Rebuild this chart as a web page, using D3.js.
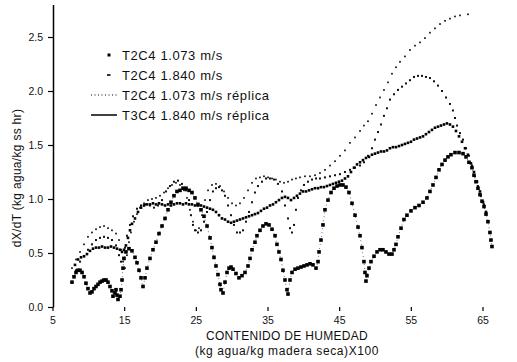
<!DOCTYPE html>
<html>
<head>
<meta charset="utf-8">
<script src="https://cdn.jsdelivr.net/npm/d3@7"></script>
<style>
  body { margin: 0; background: #fff; }
  svg { display: block; }
  text { font-family: "Liberation Sans", Arial, sans-serif; fill: #111; }
</style>
</head>
<body>
<svg id="chart" width="517" height="362"></svg>
<script>
// Drying-rate curves: [moisture content (kg agua/kg madera seca x100), dX/dT]
const seriesLabels = [
  "T2C4 1.073 m/s",
  "T2C4 1.840 m/s",
  "T2C4 1.073 m/s réplica",
  "T3C4 1.840 m/s réplica"
];

const serieT2C4_1073 = [
  [7.72,0.23],[8.00,0.28],[8.28,0.32],[8.56,0.34],[8.84,0.34],[9.12,0.32],[9.40,0.28],[9.67,0.22],
  [9.95,0.17],[10.23,0.13],[10.51,0.14],[10.79,0.17],[11.07,0.19],[11.35,0.21],[11.63,0.23],[11.91,0.24],
  [12.19,0.25],[12.47,0.25],[12.74,0.23],[13.02,0.19],[13.30,0.15],[13.44,0.10],[13.72,0.13],[13.86,0.16],
  [14.00,0.11],[14.14,0.07],[14.42,0.10],[14.56,0.16],[14.70,0.25],[14.84,0.36],[14.98,0.45],[15.25,0.51],
  [15.67,0.54],[16.09,0.52],[16.51,0.46],[16.79,0.41],[17.07,0.34],[17.35,0.27],[17.63,0.19],[17.91,0.27],
  [18.18,0.36],[18.60,0.45],[19.02,0.53],[19.44,0.60],[19.86,0.68],[20.28,0.75],[20.70,0.82],[21.12,0.90],
  [21.53,0.97],[21.95,1.03],[22.37,1.07],[22.79,1.08],[23.21,1.10],[23.63,1.10],[24.05,1.08],[24.46,1.06],
  [24.88,1.01],[25.30,0.95],[25.72,0.90],[26.14,0.84],[26.56,0.75],[26.98,0.64],[27.25,0.55],[27.53,0.46],
  [27.81,0.38],[28.09,0.30],[28.37,0.21],[28.51,0.16],[28.79,0.13],[29.07,0.23],[29.35,0.32],[29.63,0.36],
  [29.91,0.37],[30.19,0.35],[30.60,0.31],[31.02,0.27],[31.44,0.29],[31.86,0.32],[32.28,0.38],[32.56,0.45],
  [32.84,0.53],[33.25,0.60],[33.53,0.66],[33.95,0.71],[34.37,0.75],[34.79,0.77],[35.21,0.76],[35.63,0.72],
  [36.05,0.66],[36.32,0.58],[36.60,0.51],[36.88,0.44],[37.16,0.34],[37.44,0.25],[37.72,0.16],[37.86,0.12],
  [38.14,0.25],[38.42,0.32],[38.84,0.35],[39.25,0.36],[39.67,0.37],[40.09,0.38],[40.51,0.39],[40.93,0.40],
  [41.35,0.39],[41.77,0.36],[42.05,0.42],[42.19,0.51],[42.46,0.62],[42.74,0.76],[43.02,0.90],[43.44,0.99],
  [43.86,1.06],[44.28,1.10],[44.70,1.12],[45.11,1.13],[45.53,1.13],[45.95,1.11],[46.37,1.06],[46.79,0.96],
  [47.21,0.85],[47.63,0.74],[47.91,0.66],[48.18,0.55],[48.46,0.42],[48.60,0.32],[48.74,0.24],[48.88,0.29],
  [49.16,0.36],[49.44,0.42],[49.86,0.47],[50.28,0.51],[50.70,0.53],[51.11,0.53],[51.53,0.51],[51.95,0.49],
  [52.37,0.49],[52.65,0.53],[52.93,0.58],[53.21,0.65],[53.63,0.73],[54.04,0.81],[54.46,0.85],[55.02,0.89],
  [55.58,0.92],[56.14,0.94],[56.70,0.97],[57.25,1.01],[57.67,1.07],[58.09,1.13],[58.51,1.20],[58.93,1.27],
  [59.35,1.32],[59.77,1.36],[60.18,1.39],[60.60,1.41],[61.16,1.43],[61.72,1.43],[62.28,1.42],[62.70,1.39],
  [63.11,1.34],[63.53,1.29],[63.81,1.22],[64.09,1.16],[64.37,1.10],[64.65,1.04],[64.93,0.98],[65.21,0.93],
  [65.49,0.86],[65.76,0.79],[66.04,0.69],[66.18,0.62],[66.32,0.56]
];

const serieT2C4_1840 = [
  [8.14,0.39],[8.56,0.44],[8.98,0.46],[9.40,0.47],[9.81,0.49],[10.23,0.52],[10.65,0.54],[11.07,0.55],
  [11.49,0.55],[11.91,0.56],[12.33,0.55],[12.74,0.55],[13.16,0.56],[13.58,0.55],[14.00,0.54],[14.42,0.53],
  [14.70,0.51],[14.98,0.53],[15.25,0.57],[15.53,0.64],[15.81,0.71],[16.09,0.77],[16.51,0.82],[16.93,0.88],
  [17.35,0.92],[17.77,0.94],[18.18,0.95],[18.60,0.95],[19.02,0.96],[19.44,0.95],[19.86,0.96],[20.28,0.95],
  [20.70,0.94],[21.12,0.95],[21.53,0.94],[21.95,0.95],[22.37,0.96],[22.79,0.96],[23.21,0.95],[23.63,0.96],
  [24.05,0.95],[24.46,0.95],[24.88,0.94],[25.30,0.94],[25.72,0.94],[26.14,0.93],[26.56,0.92],[26.98,0.91],
  [27.39,0.90],[27.81,0.88],[28.23,0.85],[28.65,0.82],[29.07,0.81],[29.49,0.79],[29.91,0.78],[30.32,0.79],
  [30.74,0.80],[31.16,0.81],[31.58,0.82],[32.00,0.83],[32.42,0.84],[32.84,0.85],[33.25,0.86],[33.67,0.87],
  [34.09,0.89],[34.51,0.91],[34.93,0.92],[35.35,0.94],[35.77,0.95],[36.18,0.97],[36.60,0.99],[37.02,1.01],
  [37.44,1.02],[37.86,1.01],[38.28,0.99],[38.70,1.01],[39.11,1.03],[39.53,1.05],[39.95,1.07],[40.37,1.07],
  [40.79,1.08],[41.21,1.09],[41.63,1.10],[42.05,1.10],[42.46,1.11],[42.88,1.11],[43.30,1.12],[43.72,1.13],
  [44.14,1.14],[44.56,1.15],[44.97,1.16],[45.39,1.17],[45.81,1.19],[46.23,1.21],[46.65,1.25],[47.07,1.29],
  [47.49,1.32],[47.91,1.34],[48.32,1.36],[48.74,1.38],[49.16,1.39],[49.58,1.41],[50.00,1.42],[50.42,1.43],
  [50.84,1.44],[51.25,1.44],[51.67,1.45],[52.09,1.47],[52.51,1.48],[52.93,1.48],[53.35,1.49],[53.77,1.50],
  [54.18,1.51],[54.60,1.52],[55.02,1.53],[55.44,1.55],[55.86,1.56],[56.28,1.57],[56.70,1.58],[57.11,1.60],
  [57.53,1.62],[57.95,1.64],[58.37,1.66],[58.79,1.67],[59.21,1.68],[59.63,1.69],[60.04,1.70],[60.46,1.69],
  [60.88,1.67],[61.30,1.63],[61.72,1.58],[62.14,1.53],[62.56,1.47],[62.97,1.41],[63.39,1.33],[63.81,1.25],
  [64.23,1.16],[64.65,1.07],[65.07,0.97],[65.49,0.88]
];

const serieT2C4_1073r = [
  [7.72,0.36],[8.28,0.44],[8.84,0.51],[9.40,0.58],[9.95,0.65],[10.51,0.69],[11.07,0.72],[11.63,0.74],
  [12.19,0.75],[12.74,0.73],[13.30,0.71],[13.86,0.68],[14.28,0.62],[14.56,0.53],[14.84,0.42],[15.12,0.36],
  [15.39,0.48],[15.67,0.60],[15.95,0.69],[16.37,0.79],[16.79,0.86],[17.21,0.92],[17.77,0.96],[18.32,0.99],
  [18.88,1.00],[19.44,1.01],[20.00,1.03],[20.56,1.06],[21.12,1.10],[21.67,1.13],[22.23,1.15],[22.79,1.13],
  [23.35,1.08],[23.77,1.01],[24.18,0.90],[24.60,0.79],[25.02,0.71],[25.44,0.73],[25.86,0.85],[26.28,0.99],
  [26.70,1.08],[27.25,1.13],[27.81,1.14],[28.37,1.12],[28.93,1.07],[29.49,1.01],[30.05,0.96],[30.60,0.94],
  [31.16,0.96],[31.72,1.01],[32.28,1.08],[32.84,1.15],[33.39,1.19],[33.95,1.20],[34.51,1.21],[35.07,1.20],
  [35.63,1.19],[36.18,1.18],[36.74,1.16],[37.30,1.15],[37.86,1.16],[38.42,1.18],[38.97,1.19],[39.53,1.20],
  [40.23,1.21],[40.93,1.21],[41.63,1.22],[42.32,1.24],[43.02,1.27],[43.72,1.31],[44.42,1.35],[45.11,1.40],
  [45.81,1.45],[46.51,1.52],[47.21,1.57],[47.91,1.63],[48.46,1.68],[49.02,1.72],[49.58,1.79],[50.14,1.87],
  [50.70,1.94],[51.25,2.01],[51.81,2.08],[52.37,2.16],[52.93,2.22],[53.49,2.27],[54.18,2.32],[54.88,2.38],
  [55.58,2.42],[56.28,2.45],[56.97,2.49],[57.67,2.54],[58.37,2.58],[59.07,2.62],[59.77,2.65],[60.46,2.67],
  [61.16,2.69],[61.86,2.70],[62.97,2.71]
];

const serieT3C4_1840r = [
  [8.28,0.34],[8.84,0.42],[9.40,0.47],[9.95,0.53],[10.51,0.58],[11.07,0.62],[11.63,0.64],[12.19,0.65],
  [12.74,0.64],[13.30,0.62],[13.86,0.57],[14.28,0.48],[14.56,0.42],[14.84,0.45],[15.12,0.55],[15.39,0.66],
  [15.81,0.76],[16.23,0.84],[16.79,0.91],[17.35,0.94],[17.91,0.95],[18.60,0.94],[19.16,0.92],[19.72,0.94],
  [20.28,0.99],[20.84,1.07],[21.39,1.12],[21.95,1.16],[22.51,1.17],[23.07,1.14],[23.63,1.08],[24.05,0.99],
  [24.32,0.85],[24.60,0.76],[24.88,0.71],[25.30,0.69],[25.72,0.71],[26.14,0.79],[26.56,0.88],[26.98,0.99],
  [27.39,1.07],[27.81,1.10],[28.23,1.11],[28.65,1.08],[29.07,1.03],[29.49,0.94],[29.91,0.85],[30.32,0.76],
  [30.74,0.69],[31.16,0.69],[31.58,0.71],[32.00,0.79],[32.42,0.88],[32.84,0.97],[33.25,1.06],[33.67,1.12],
  [34.23,1.16],[34.79,1.19],[35.35,1.19],[35.91,1.18],[36.46,1.14],[37.02,1.07],[37.44,0.94],[37.86,0.82],
  [38.14,0.73],[38.42,0.69],[38.70,0.76],[38.97,0.90],[39.25,1.01],[39.67,1.08],[40.09,1.13],[40.65,1.16],
  [41.21,1.18],[41.77,1.19],[42.32,1.19],[43.02,1.20],[43.72,1.21],[44.42,1.22],[45.11,1.23],[45.81,1.25],
  [46.51,1.27],[47.21,1.29],[47.91,1.31],[48.46,1.34],[49.02,1.40],[49.58,1.47],[50.00,1.55],[50.42,1.62],
  [50.84,1.69],[51.25,1.77],[51.67,1.84],[52.09,1.92],[52.65,1.97],[53.21,2.01],[53.77,2.04],[54.32,2.07],
  [54.88,2.10],[55.44,2.13],[56.00,2.14],[56.56,2.14],[57.11,2.13],[57.67,2.12],[58.23,2.09],[58.79,2.05],
  [59.35,2.00],[59.91,1.94],[60.46,1.88],[60.88,1.82],[61.16,1.75],[61.44,1.68],[61.86,1.61],[62.28,1.55],
  [62.70,1.47],[63.11,1.40],[63.53,1.31],[63.95,1.21],[64.37,1.12],[64.79,1.03],[65.21,0.95]
];

const xTicks = [5, 15, 25, 35, 45, 55, 65];
const yTicks = [0, 0.5, 1.0, 1.5, 2.0, 2.5];
const xTitle = ["CONTENIDO DE HUMEDAD", "(kg agua/kg madera seca)X100"];
const yTitle = "dX/dT (kg agua/kg ss hr)";

const svg = d3.select("#chart");

const x = d3.scaleLinear().domain([5, 65]).range([52.5, 482.5]);
const y = d3.scaleLinear().domain([0, 2.8]).range([307, 4.6]);

// Y axis with its line
const yAxis = svg.append("g")
  .attr("transform", "translate(53,0)")
  .call(d3.axisLeft(y).tickValues(yTicks).tickSize(5).tickSizeOuter(0).tickPadding(5)
    .tickFormat(d3.format(".1f")));
yAxis.select(".domain").attr("stroke", "#000").attr("stroke-width", 1.5);
yAxis.selectAll(".tick line").attr("stroke", "#000").attr("stroke-width", 1.2);
yAxis.selectAll(".tick text").style("font-size", "10.5px").attr("fill", "#222");

// X axis: tick marks only, no baseline
const xAxis = svg.append("g")
  .attr("transform", "translate(0,307)")
  .call(d3.axisBottom(x).tickValues(xTicks).tickSize(4).tickSizeOuter(0).tickPadding(6)
    .tickFormat(d3.format("d")));
xAxis.select(".domain").remove();
xAxis.selectAll(".tick line").attr("stroke", "#000").attr("stroke-width", 1.2);
xAxis.selectAll(".tick text").style("font-size", "10.5px").attr("fill", "#222");

// Axis titles
svg.append("text").attr("x", 287).attr("y", 340).attr("text-anchor", "middle")
  .style("font-size", "12px").style("letter-spacing", "0.3px").text(xTitle[0]);
svg.append("text").attr("x", 287).attr("y", 355).attr("text-anchor", "middle")
  .style("font-size", "12px").style("letter-spacing", "0.6px").text(xTitle[1]);
svg.append("text").attr("transform", "translate(21,178) rotate(-90)").attr("text-anchor", "middle")
  .style("font-size", "12px").style("letter-spacing", "0.3px").text(yTitle);

// Series marker styles
const styles = [
  { data: serieT2C4_1073, size: 3.6, fill: "#000" },
  { data: serieT2C4_1840, size: 2.6, fill: "#000" },
  { data: serieT2C4_1073r, size: 1.7, fill: "#111" },
  { data: serieT3C4_1840r, size: 2.0, fill: "#111" }
];

// faint connecting trace under the first series
svg.append("path")
  .datum(serieT2C4_1073)
  .attr("fill", "none")
  .attr("stroke", "#2b2b9c")
  .attr("stroke-width", 1)
  .attr("stroke-dasharray", "1 3")
  .attr("opacity", 0.7)
  .attr("d", d3.line().x(d => x(d[0])).y(d => y(d[1])));

styles.slice().reverse().forEach(s => {
  svg.append("g").selectAll("rect")
    .data(s.data)
    .join("rect")
    .attr("x", d => x(d[0]) - s.size / 2)
    .attr("y", d => y(d[1]) - s.size / 2)
    .attr("width", s.size)
    .attr("height", s.size)
    .attr("fill", s.fill);
});

// Legend
const legend = svg.append("g");
const rowsY = [55, 75, 95, 115];
legend.append("rect").attr("x", 107.5).attr("y", rowsY[0] - 1.5).attr("width", 3).attr("height", 3).attr("fill", "#000");
legend.append("rect").attr("x", 107).attr("y", rowsY[1] - 0.8).attr("width", 3.5).attr("height", 1.6).attr("fill", "#000");
legend.append("line").attr("x1", 91).attr("x2", 118).attr("y1", rowsY[2]).attr("y2", rowsY[2])
  .attr("stroke", "#000").attr("stroke-width", 1).attr("stroke-dasharray", "1 2.5");
legend.append("line").attr("x1", 91).attr("x2", 117).attr("y1", rowsY[3]).attr("y2", rowsY[3])
  .attr("stroke", "#000").attr("stroke-width", 1.5);
seriesLabels.forEach((lab, i) => {
  legend.append("text").attr("x", 122).attr("y", rowsY[i]).attr("dy", "0.35em")
    .style("font-size", "13px").style("letter-spacing", "0.6px").text(lab);
});
</script>
</body>
</html>
